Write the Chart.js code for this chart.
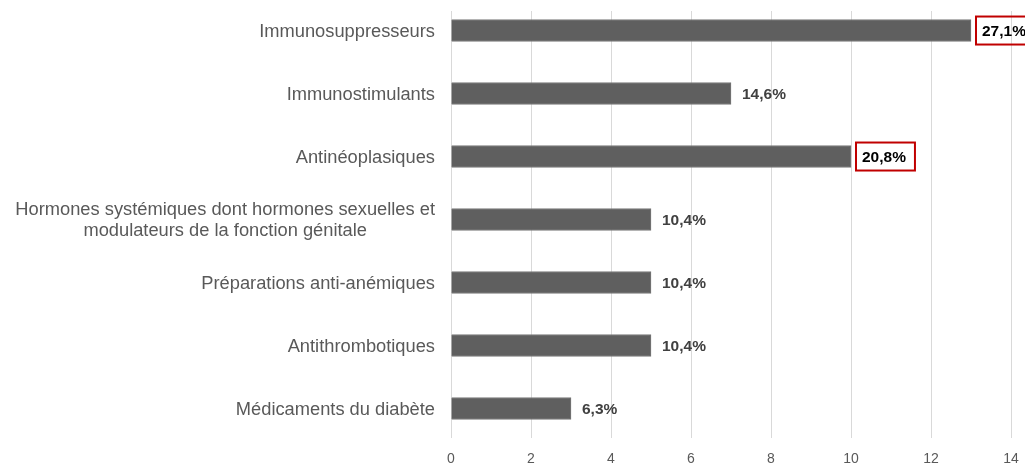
<!DOCTYPE html>
<html>
<head>
<meta charset="utf-8">
<script src="https://cdn.jsdelivr.net/npm/chart.js@4/dist/chart.umd.min.js"></script>
<style>
  html, body { margin: 0; padding: 0; background: #ffffff; }
  #wrap { width: 1025px; height: 464px; position: relative; }
</style>
</head>
<body>
<div id="wrap"><canvas id="c" width="1025" height="464"></canvas></div>
<script>
const categories = [
  ["Immunosuppresseurs"],
  ["Immunostimulants"],
  ["Antinéoplasiques"],
  ["Hormones systémiques dont hormones sexuelles et", "modulateurs de la fonction génitale"],
  ["Préparations anti-anémiques"],
  ["Antithrombotiques"],
  ["Médicaments du diabète"]
];
const counts = [13, 7, 10, 5, 5, 5, 3];
const percentLabels = ["27,1%", "14,6%", "20,8%", "10,4%", "10,4%", "10,4%", "6,3%"];
const highlighted = [true, false, true, false, false, false, false];
const xTicks = [0, 2, 4, 6, 8, 10, 12, 14];

const FONT = "'Liberation Sans', Arial, sans-serif";

const labelPlugin = {
  id: 'labels',
  afterDatasetsDraw(chart) {
    const ctx = chart.ctx;
    const meta = chart.getDatasetMeta(0);
    const yScale = chart.scales.y;
    ctx.save();
    // category labels
    ctx.font = "18.3px " + FONT;
    ctx.fillStyle = "#595959";
    ctx.textBaseline = "middle";
    ctx.textAlign = "center";
    const rightEdge = chart.chartArea.left - 16;
    categories.forEach((lines, i) => {
      const yc = yScale.getPixelForValue(i);
      const w = Math.max(...lines.map(l => ctx.measureText(l).width));
      const cx = rightEdge - w / 2;
      const lh = 21;
      const y0 = yc - (lines.length - 1) * lh / 2;
      lines.forEach((l, k) => ctx.fillText(l, cx, y0 + k * lh + 1));
    });
    // value labels
    ctx.font = "bold 15.5px " + FONT;
    ctx.textAlign = "left";
    meta.data.forEach((el, i) => {
      const x = el.x, y = el.y;
      const txt = percentLabels[i];
      if (highlighted[i]) {
        const w = ctx.measureText(txt).width;
        ctx.strokeStyle = "#c00000";
        ctx.lineWidth = 2;
        ctx.strokeRect(x + 5, y - 14, w + 15, 28);
        ctx.fillStyle = "#000000";
        ctx.fillText(txt, x + 11, y + 1);
      } else {
        ctx.fillStyle = "#404040";
        ctx.fillText(txt, x + 11, y + 1);
      }
    });
    ctx.restore();
  }
};

new Chart(document.getElementById('c'), {
  type: 'bar',
  data: {
    datasets: [{
      data: counts.map((v, i) => ({ x: v, y: i })),
      backgroundColor: '#5f5f5f',
      borderColor: '#7a7a7a',
      borderWidth: 1,
      barThickness: 22
    }]
  },
  options: {
    indexAxis: 'y',
    responsive: false,
    animation: false,
    layout: { padding: { top: 11, right: 14, left: 0, bottom: 0 } },
    plugins: { legend: { display: false }, tooltip: { enabled: false } },
    scales: {
      x: {
        type: 'linear',
        min: 0,
        max: 14,
        afterBuildTicks: (s) => { s.ticks = xTicks.map(v => ({ value: v })); },
        grid: { color: '#d9d9d9', drawTicks: false },
        border: { display: false },
        ticks: { color: '#595959', font: { family: FONT, size: 14 }, padding: 13 },
        afterFit: (s) => { s.height = 26; s.paddingRight = 0; s.paddingLeft = 0; }
      },
      y: {
        type: 'linear',
        reverse: true,
        offset: false,
        min: -0.31,
        max: 6.468,
        grid: { display: false, offset: false },
        border: { display: false },
        ticks: { display: false },
        afterFit: (s) => { s.width = 451; }
      }
    }
  },
  plugins: [labelPlugin]
});
</script>
</body>
</html>
